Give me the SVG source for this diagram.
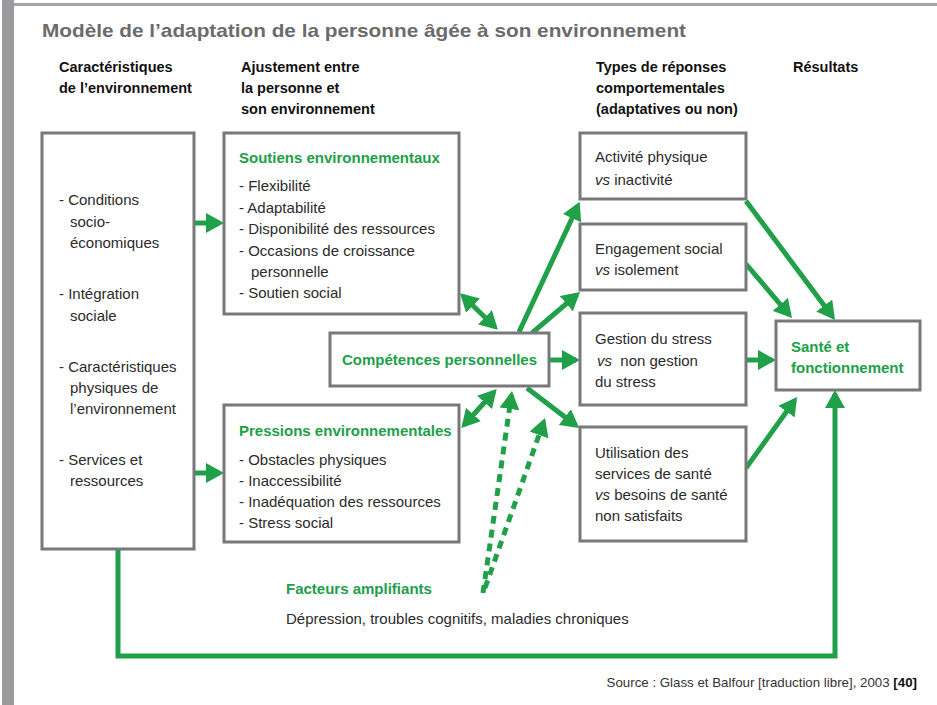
<svg xmlns="http://www.w3.org/2000/svg" width="937" height="705" viewBox="0 0 937 705">
<style>
text{font-family:"Liberation Sans",Arial,sans-serif;}
.t{font-size:15px;fill:#2b2b2b;}
.h{font-size:14.5px;font-weight:bold;fill:#111;}
.g{font-size:15px;font-weight:bold;fill:#20a048;}
.box{fill:#fff;stroke:#78787b;stroke-width:3;}
.c{fill:none;stroke:#20a048;stroke-width:5;}
.d{fill:none;stroke:#20a048;stroke-width:5;stroke-dasharray:8 6;}
.i{font-style:italic;}
</style>
<defs>
<marker id="ah" viewBox="0 0 18 20" refX="14" refY="10" markerWidth="18" markerHeight="20" markerUnits="userSpaceOnUse" orient="auto-start-reverse">
<path d="M0,0 L18,10 L0,20 z" fill="#20a048"/>
</marker>
</defs>
<rect x="0" y="0" width="937" height="705" fill="#fff"/>
<rect x="2" y="0" width="12" height="705" fill="#9b9b9d"/>
<rect x="14" y="3" width="923" height="3" fill="#a5a5a7"/>
<text x="42" y="37" textLength="644" lengthAdjust="spacingAndGlyphs" style="font-size:19px;font-weight:bold;fill:#6b6b6d">Modèle de l’adaptation de la personne âgée à son environnement</text>

<g id="headers">
<text class="h" x="59" y="72">Caractéristiques</text>
<text class="h" x="59" y="93">de l’environnement</text>
<text class="h" x="241" y="72">Ajustement entre</text>
<text class="h" x="241" y="93">la personne et</text>
<text class="h" x="241" y="114">son environnement</text>
<text class="h" x="596" y="72">Types de réponses</text>
<text class="h" x="596" y="93">comportementales</text>
<text class="h" x="596" y="114">(adaptatives ou non)</text>
<text class="h" x="793" y="72">Résultats</text>
</g>

<g id="connectors">
<path class="c" d="M118,549 V656 H835 V394" marker-end="url(#ah)"/>
<line class="c" x1="194" y1="223" x2="220" y2="223" marker-end="url(#ah)"/>
<line class="c" x1="194" y1="473" x2="220" y2="473" marker-end="url(#ah)"/>
<line class="c" x1="463" y1="296" x2="495" y2="327" marker-start="url(#ah)" marker-end="url(#ah)"/>
<line class="c" x1="464" y1="425" x2="494" y2="392" marker-start="url(#ah)" marker-end="url(#ah)"/>
<line class="c" x1="519" y1="332" x2="578" y2="205.5" marker-end="url(#ah)"/>
<line class="c" x1="532" y1="333" x2="577" y2="294.6" marker-end="url(#ah)"/>
<line class="c" x1="549" y1="360" x2="576" y2="360" marker-end="url(#ah)"/>
<line class="c" x1="527" y1="388" x2="576" y2="425.6" marker-end="url(#ah)"/>
<line class="c" x1="746" y1="201" x2="832.6" y2="316.8" marker-end="url(#ah)"/>
<line class="c" x1="746" y1="264" x2="789.4" y2="315" marker-end="url(#ah)"/>
<line class="c" x1="746" y1="360" x2="772" y2="360" marker-end="url(#ah)"/>
<line class="c" x1="746" y1="468" x2="794.7" y2="400.2" marker-end="url(#ah)"/>
<line class="d" x1="483" y1="593" x2="511.4" y2="395" marker-end="url(#ah)"/>
<line class="d" x1="485" y1="588" x2="543.7" y2="421.8" marker-end="url(#ah)"/>
</g>

<g id="environnement">
<rect class="box" x="42" y="133" width="152" height="416"/>
<text class="t" x="59" y="205">- Conditions</text>
<text class="t" x="70" y="227">socio-</text>
<text class="t" x="70" y="248">économiques</text>
<text class="t" x="59" y="299">- Intégration</text>
<text class="t" x="70" y="321">sociale</text>
<text class="t" x="59" y="372">- Caractéristiques</text>
<text class="t" x="70" y="393">physiques de</text>
<text class="t" x="70" y="414">l’environnement</text>
<text class="t" x="59" y="465">- Services et</text>
<text class="t" x="70" y="486">ressources</text>
</g>

<g id="soutiens">
<rect class="box" x="224" y="133" width="235" height="181"/>
<text class="g" x="239" y="163">Soutiens environnementaux</text>
<text class="t" x="239" y="191">- Flexibilité</text>
<text class="t" x="239" y="213">- Adaptabilité</text>
<text class="t" x="239" y="234">- Disponibilité des ressources</text>
<text class="t" x="239" y="256">- Occasions de croissance</text>
<text class="t" x="251" y="277">personnelle</text>
<text class="t" x="239" y="298">- Soutien social</text>
</g>

<g id="pressions">
<rect class="box" x="224" y="405" width="235" height="137"/>
<text class="g" x="239" y="436">Pressions environnementales</text>
<text class="t" x="239" y="465">- Obstacles physiques</text>
<text class="t" x="239" y="486">- Inaccessibilité</text>
<text class="t" x="239" y="507">- Inadéquation des ressources</text>
<text class="t" x="239" y="528">- Stress social</text>
</g>

<g id="competences">
<rect class="box" x="330" y="333" width="219" height="53"/>
<text class="g" x="439.5" y="365" text-anchor="middle">Compétences personnelles</text>
</g>

<g id="activite">
<rect class="box" x="580" y="133" width="166" height="66"/>
<text class="t" x="595" y="162">Activité physique</text>
<text class="t" x="595" y="185"><tspan class="i">vs</tspan> inactivité</text>
</g>

<g id="engagement">
<rect class="box" x="580" y="224" width="166" height="66"/>
<text class="t" x="595" y="254">Engagement social</text>
<text class="t" x="595" y="275"><tspan class="i">vs</tspan> isolement</text>
</g>

<g id="gestion">
<rect class="box" x="580" y="313" width="166" height="92"/>
<text class="t" x="595" y="344">Gestion du stress</text>
<text class="t" x="597" y="366" xml:space="preserve"><tspan class="i">vs</tspan>  non gestion</text>
<text class="t" x="595" y="387">du stress</text>
</g>

<g id="utilisation">
<rect class="box" x="580" y="427" width="166" height="114"/>
<text class="t" x="595" y="458">Utilisation des</text>
<text class="t" x="595" y="479">services de santé</text>
<text class="t" x="595" y="500"><tspan class="i">vs</tspan> besoins de santé</text>
<text class="t" x="595" y="521">non satisfaits</text>
</g>

<g id="sante">
<rect class="box" x="776" y="321" width="144" height="69"/>
<text class="g" x="791" y="352">Santé et</text>
<text class="g" x="791" y="373">fonctionnement</text>
</g>

<g id="facteurs">
<text class="g" x="286" y="594">Facteurs amplifiants</text>
<text class="t" x="286" y="624">Dépression, troubles cognitifs, maladies chroniques</text>
</g>

<text x="917" y="687" text-anchor="end" style="font-size:13.3px;fill:#333">Source : Glass et Balfour [traduction libre], 2003 <tspan style="font-weight:bold;fill:#111">[40]</tspan></text>
</svg>
